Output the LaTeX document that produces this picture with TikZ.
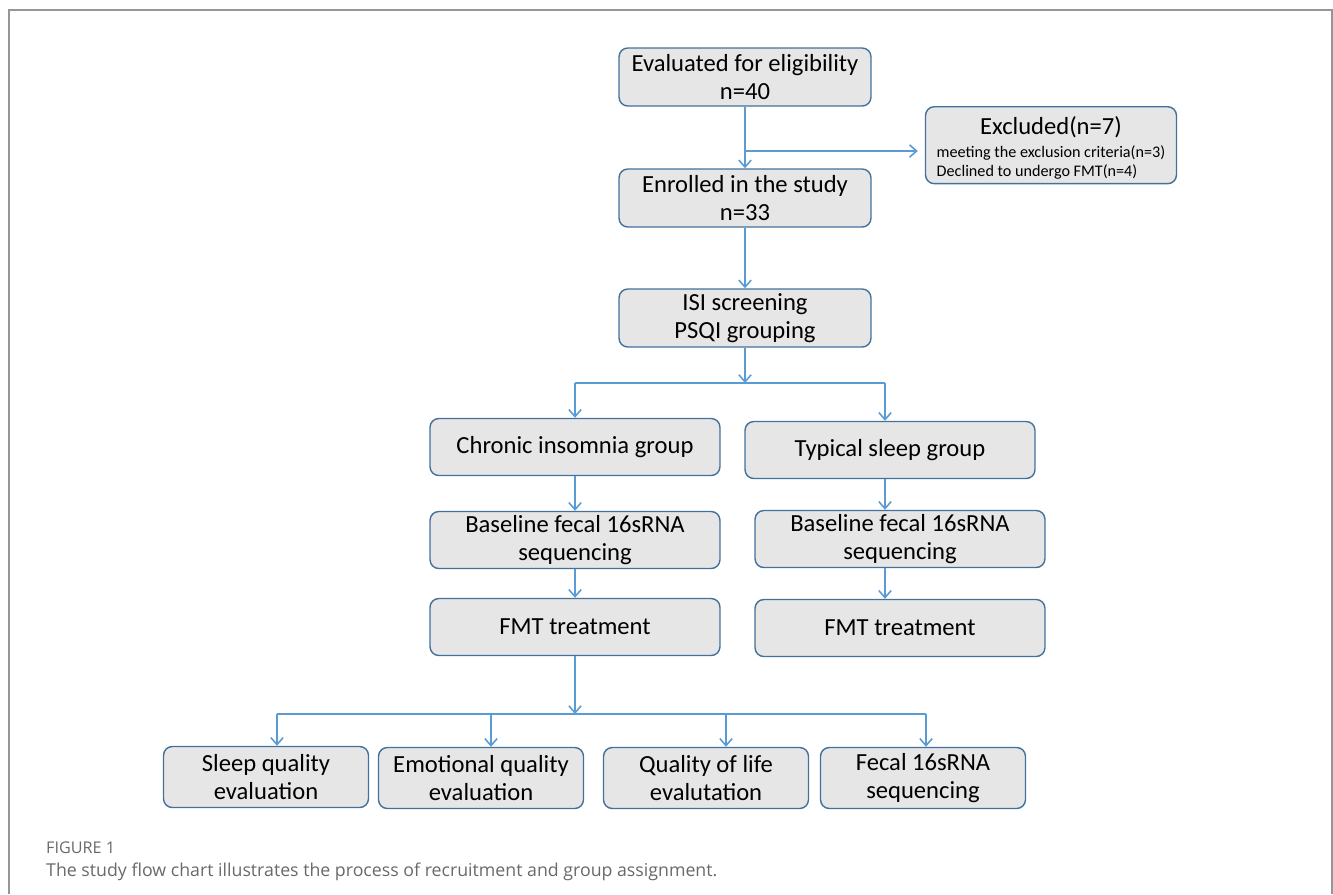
\documentclass[tikz,border=0pt]{standalone}
\usepackage{fontspec}
\setmainfont{Carlito}
\newfontfamily\capfont{Open Sans}
\usetikzlibrary{positioning, arrows.meta}

\definecolor{boxfill}{RGB}{231,230,230}
\definecolor{boxline}{RGB}{65,113,156}
\definecolor{arrline}{RGB}{91,155,213}
\definecolor{capgray}{RGB}{105,105,105}
\definecolor{framegray}{RGB}{150,150,150}

\begin{document}
\begin{tikzpicture}[x=0.02cm, y=-0.02cm,
  every node/.style={font=\fontsize{14}{16}\selectfont},
  box/.style={draw=boxline, fill=boxfill, line width=0.8pt, rounded corners=5pt,
    align=center, inner sep=2pt},
  topbox/.style={box, minimum width=5.04cm, minimum height=1.16cm},
  midbox/.style={box, minimum width=5.8cm, minimum height=1.14cm},
  lowbox/.style={box, minimum width=4.1cm, minimum height=1.22cm},
  arr/.style={-{Straight Barb[length=4pt, width=7pt]}, arrline, line width=0.9pt},
  lnk/.style={arrline, line width=0.9pt},
  captxt/.style={anchor=base west, text=capgray}
]
\useasboundingbox (0,0) rectangle (1333,894);

% ---------- frame (open at the bottom) ----------
\draw[framegray, line width=0.6pt] (9,894) -- (9,10) -- (1332,10) -- (1332,894);

% ---------- recruitment ----------
\node[topbox] (eval) at (745,77) {Evaluated for eligibility\\n=40};
\node[box, minimum width=5.02cm, minimum height=1.54cm, inner ysep=0.5pt, anchor=north]
  (excl) at (1051,106)
  {\rule{0pt}{15pt}Excluded(n=7)\\[-3pt]
   {\fontsize{9.2}{10.8}\selectfont
    \begin{tabular}[t]{@{}l@{}}meeting the exclusion criteria(n=3)\\
      Declined to undergo FMT(n=4)\end{tabular}}};
\node[topbox] (enrol) at (745,198) {Enrolled in the study\\n=33};
\node[topbox] (isi) at (745,318) {ISI screening\\PSQI grouping};

% ---------- groups ----------
\node[midbox] (chronic) at (575,447) {Chronic insomnia group};
\node[midbox] (typical) at (890,450) {Typical sleep group};
\node[midbox] (baseL) at (575,540) {Baseline fecal 16sRNA\\sequencing};
\node[midbox] (baseR) at (900,539) {Baseline fecal 16sRNA\\sequencing};
\node[midbox] (fmtL) at (575,627) {FMT treatment};
\node[midbox] (fmtR) at (900,628) {FMT treatment};

% ---------- outcomes ----------
\node[lowbox] (sleepq) at (266,777) {Sleep quality\\evaluation};
\node[lowbox] (emoq) at (481,778) {Emotional quality\\evaluation};
\node[lowbox] (lifeq) at (706,778) {Quality of life\\evalutation};
\node[lowbox] (fecal) at (923,778) {Fecal 16sRNA\\sequencing};

% ---------- junctions ----------
\coordinate (j0) at (745,151);
\coordinate (j1) at (745,383);
\coordinate (rcol) at (885,0);
\coordinate (j2) at (575,714);

% ---------- arrows ----------
\draw[arr] (eval) -- (enrol);
\draw[arr, shorten >=4pt] (j0) -- (j0 -| excl.west);
\draw[arr] (enrol) -- (isi);
\draw[arr] (isi) -- (j1);
\draw[lnk] (j1 -| chronic) -- (j1 -| rcol);
\draw[arr] (j1 -| chronic) -- (chronic);
\draw[arr] (j1 -| rcol) -- (typical.north -| rcol);
\draw[arr] (chronic) -- (baseL);
\draw[arr] (typical.south -| rcol) -- (baseR.north -| rcol);
\draw[arr] (baseL) -- (fmtL);
\draw[arr] (baseR.south -| rcol) -- (fmtR.north -| rcol);
\draw[arr] (fmtL) -- (j2);
\draw[lnk] ([xshift=0.22cm]j2 -| sleepq) -- ([xshift=0.06cm]j2 -| fecal);
\foreach \n/\dx in {sleepq/0.22, emoq/0.2, lifeq/0.4, fecal/0.06}
  \draw[arr] ([xshift=\dx cm]j2 -| \n) -- ([xshift=\dx cm]\n.north);

% ---------- caption ----------
\node[captxt, font=\capfont\fontsize{9.2}{11}\selectfont] (fig) at (40,853) {FIGURE 1};
\node[captxt, font=\capfont\fontsize{10.1}{12}\selectfont] (caption) at (40,876)
  {The study flow chart illustrates the process of recruitment and group assignment.};
\end{tikzpicture}
\end{document}
